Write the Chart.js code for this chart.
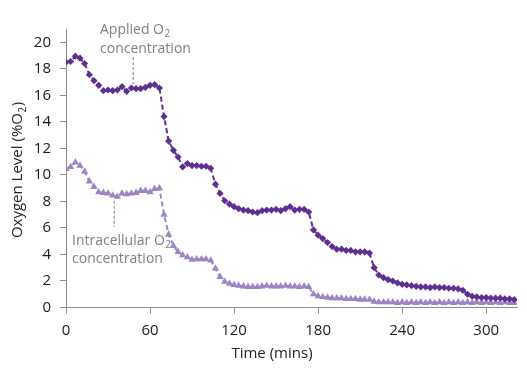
<!DOCTYPE html>
<html>
<head>
<meta charset="utf-8">
<script src="https://cdn.jsdelivr.net/npm/chart.js@4.4.1/dist/chart.umd.min.js"></script>
<style>
  html, body { margin: 0; padding: 0; background: #fff; }
  #wrap { width: 527px; height: 378px; }
</style>
</head>
<body>
<div id="wrap"><canvas id="o2Chart"></canvas></div>
<script>
// sampling times (mins)
const times = [0,3.3,6.7,10,13.3,16.7,20,23.3,26.7,30,33.3,36.7,40,43.3,46.7,50,53.3,56.7,60,63.3,
  66.7,70,73.3,76.7,80,83.3,86.7,90,93.3,96.7,100,103.3,106.7,110,113.3,116.7,120,123.3,126.7,130,
  133.3,136.7,140,143.3,146.7,150,153.3,156.7,160,163.3,166.7,170,173.3,176.7,180,183.3,186.7,190,193.3,196.7,
  200,203.3,206.7,210,213.3,216.7,220,223.3,226.7,230,233.3,236.7,240,243.3,246.7,250,253.3,256.7,260,263.3,
  266.7,270,273.3,276.7,280,283.3,286.7,290,293.3,296.7,300,303.3,306.7,310,313.3,316.7,320];

// applied O2 (%)
const applied = [18.5,18.55,18.95,18.8,18.4,17.55,17.1,16.75,16.35,16.4,
  16.35,16.4,16.65,16.3,16.55,16.5,16.5,16.6,16.75,16.8,
  16.55,14.4,12.55,11.85,11.35,10.6,10.85,10.7,10.7,10.65,
  10.65,10.5,9.3,8.6,8.05,7.8,7.6,7.45,7.35,7.3,
  7.2,7.15,7.3,7.35,7.35,7.4,7.3,7.45,7.6,7.35,
  7.4,7.4,7.2,5.85,5.45,5.2,4.9,4.6,4.4,4.4,
  4.3,4.3,4.2,4.2,4.2,4.1,3.0,2.45,2.25,2.1,
  2.0,1.85,1.75,1.7,1.65,1.6,1.55,1.55,1.5,1.55,
  1.5,1.5,1.45,1.45,1.4,1.3,1.0,0.85,0.8,0.75,
  0.75,0.7,0.7,0.7,0.65,0.65,0.6];

// intracellular O2 (%)
const intracellular = [10.45,10.6,10.95,10.7,10.25,9.5,9.1,8.7,8.65,8.6,
  8.45,8.35,8.6,8.55,8.6,8.65,8.8,8.8,8.7,8.95,
  9.0,7.0,5.5,4.65,4.2,3.95,3.8,3.6,3.65,3.65,
  3.65,3.55,2.95,2.3,1.95,1.8,1.7,1.65,1.6,1.55,
  1.55,1.55,1.6,1.65,1.6,1.6,1.6,1.65,1.6,1.6,
  1.55,1.6,1.55,1.0,0.85,0.8,0.75,0.7,0.7,0.7,
  0.65,0.65,0.65,0.6,0.6,0.6,0.45,0.4,0.4,0.4,
  0.4,0.35,0.4,0.35,0.4,0.35,0.4,0.35,0.4,0.35,
  0.4,0.35,0.4,0.35,0.4,0.35,0.4,0.35,0.4,0.35,
  0.4,0.35,0.4,0.35,0.4,0.35,0.35];

const xTicks = [0, 60, 120, 180, 240, 300];
const yTicks = [0, 2, 4, 6, 8, 10, 12, 14, 16, 18, 20];

const FONT = "'Open Sans', sans-serif";
const GREY = "#7f7f7f";

function pts(ys) {
  return times.map(function(t, i) { return { x: t, y: ys[i] }; });
}

// text with a subscript "2" at the end of the first part
function subText(ctx, x, y, main, sub, size) {
  ctx.font = size + "px " + FONT;
  ctx.fillText(main, x, y);
  const w = ctx.measureText(main).width;
  ctx.font = Math.round(size * 0.68) + "px " + FONT;
  ctx.fillText(sub, x + w + 0.5, y + size * 0.22);
}

function dashed(ctx, x, y1, y2) {
  ctx.save();
  ctx.strokeStyle = GREY;
  ctx.lineWidth = 1;
  ctx.setLineDash([3, 2]);
  ctx.beginPath();
  ctx.moveTo(x, y1);
  ctx.lineTo(x, y2);
  ctx.stroke();
  ctx.restore();
}

const labelsPlugin = {
  id: "labels",
  afterDraw: function(chart) {
    const ctx = chart.ctx;
    const xs = chart.scales.x, ys = chart.scales.y;
    ctx.save();
    ctx.fillStyle = GREY;
    ctx.textBaseline = "alphabetic";
    ctx.textAlign = "left";
    subText(ctx, 100, 34, "Applied O", "2", 14);
    ctx.font = "14px " + FONT;
    ctx.fillText("concentration", 100, 53);
    dashed(ctx, xs.getPixelForValue(48), 57, ys.getPixelForValue(applied[14]) - 4);

    subText(ctx, 72, 245, "Intracellular O", "2", 14);
    ctx.font = "14px " + FONT;
    ctx.fillText("concentration", 72, 263);
    dashed(ctx, xs.getPixelForValue(34.4), ys.getPixelForValue(intracellular[11]) + 4, 227);

    // axis titles
    ctx.fillStyle = "#222";
    ctx.font = "15px " + FONT;
    ctx.textAlign = "center";
    ctx.fillText("Time (mins)", 272, 358);
    ctx.save();
    ctx.translate(22, 170);
    ctx.rotate(-Math.PI / 2);
    ctx.textAlign = "right";
    const t1 = "Oxygen Level (%O";
    ctx.font = "15px " + FONT;
    const w1 = ctx.measureText(t1).width;
    ctx.font = "10px " + FONT;
    const w2 = ctx.measureText("2").width;
    ctx.font = "15px " + FONT;
    const w3 = ctx.measureText(")").width;
    const total = w1 + w2 + w3 + 1;
    let sx = -total / 2;
    ctx.textAlign = "left";
    ctx.fillText(t1, sx, 0);
    ctx.font = "10px " + FONT;
    ctx.fillText("2", sx + w1 + 0.5, 3.5);
    ctx.font = "15px " + FONT;
    ctx.fillText(")", sx + w1 + w2 + 1, 0);
    ctx.restore();
    ctx.restore();
  }
};

document.addEventListener("DOMContentLoaded", function() {
  const ctx = document.getElementById("o2Chart").getContext("2d");

  const data = {
    datasets: [{
      label: "Applied O2",
      data: pts(applied),
      borderColor: "#5e2f91",
      backgroundColor: "#5e2f91",
      borderWidth: 2,
      borderDash: [5, 3],
      pointStyle: "rectRot",
      pointRadius: 3.6,
      pointBorderWidth: 0,
      tension: 0
    }, {
      label: "Intracellular O2",
      data: pts(intracellular),
      borderColor: "#9d84c3",
      backgroundColor: "#9d84c3",
      borderWidth: 2,
      borderDash: [5, 3],
      pointStyle: "triangle",
      pointRadius: 4.2,
      pointBorderWidth: 0,
      tension: 0
    }]
  };

  const config = {
    type: "line",
    data: data,
    plugins: [labelsPlugin],
    options: {
      responsive: true,
      maintainAspectRatio: false,
      animation: false,
      layout: { padding: { left: 0, right: 10, top: 29, bottom: 0 } },
      plugins: { legend: { display: false }, tooltip: { enabled: false } },
      scales: {
        x: {
          type: "linear",
          min: 0,
          max: 322,
          afterBuildTicks: function(s) { s.ticks = xTicks.map(function(v) { return { value: v }; }); },
          afterFit: function(s) { s.height = 70.5; },
          border: { color: "#8c8c8c", width: 1 },
          grid: { drawOnChartArea: false, tickLength: 6, color: "#8c8c8c" },
          ticks: { color: "#1a1a1a", padding: 8, font: { family: FONT, size: 15 }, maxRotation: 0 }
        },
        y: {
          min: 0,
          max: 21,
          afterBuildTicks: function(s) { s.ticks = yTicks.map(function(v) { return { value: v }; }); },
          afterFit: function(s) { s.width = 66; },
          border: { color: "#8c8c8c", width: 1 },
          grid: { drawOnChartArea: false, tickLength: 6, color: "#8c8c8c" },
          ticks: { color: "#1a1a1a", padding: 9, font: { family: FONT, size: 15 } }
        }
      }
    }
  };

  new Chart(ctx, config);
});
</script>
</body>
</html>
